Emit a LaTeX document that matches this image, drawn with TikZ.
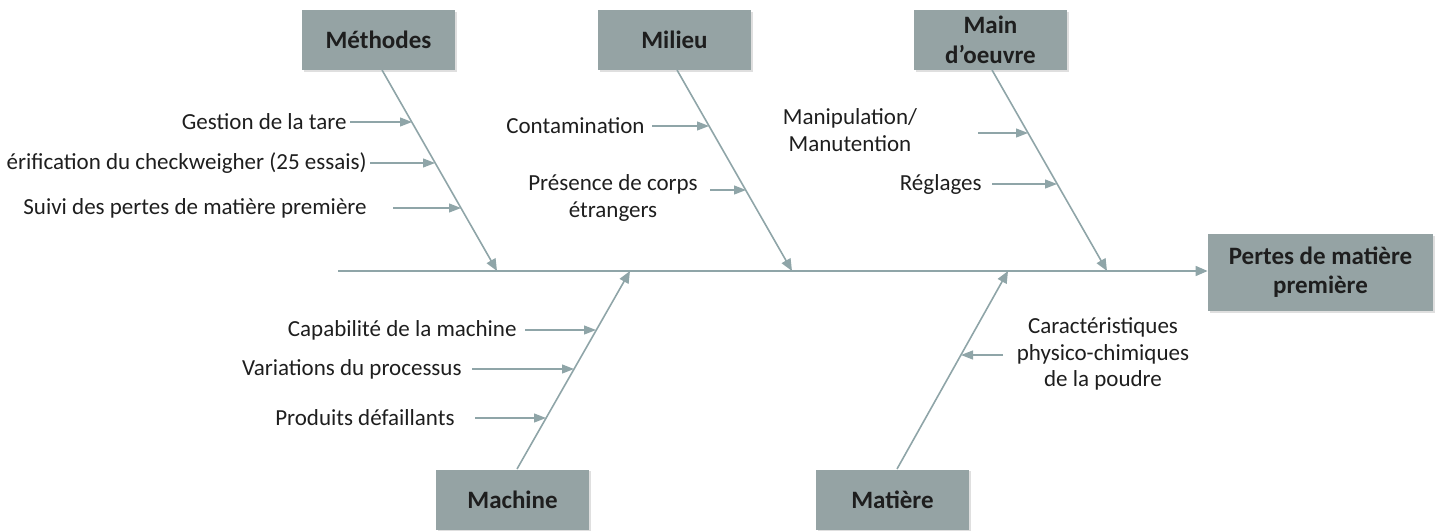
\documentclass[tikz,border=0pt]{standalone}
\usepackage{fontspec}
\setmainfont{Carlito}
\usetikzlibrary{arrows.meta,shadows}
\definecolor{boxfill}{HTML}{95A3A4}
\definecolor{bone}{HTML}{8FA5A8}
\definecolor{ink}{HTML}{1E1E1E}
\begin{document}
\begin{tikzpicture}[x=0.5pt,y=-0.5pt,
  cat/.style={fill=boxfill, draw=none, minimum width=76.5pt, minimum height=30pt,
    inner sep=0pt, align=center, text=ink,
    font=\bfseries\fontsize{12.5}{15}\selectfont,
    drop shadow={shadow xshift=0.8pt, shadow yshift=-0.8pt, opacity=0.25, fill=gray}},
  cause/.style={inner sep=0pt, align=center, text=ink, font=\fontsize{11.5}{13.3}\selectfont},
  bonearrow/.style={draw=bone, line width=0.8pt, -{Triangle[length=6pt,width=5pt]}},
  twig/.style={draw=bone, line width=0.6pt, -{Triangle[length=6pt,width=4.5pt]}}]
\useasboundingbox (0,0) rectangle (1440,530);

% category boxes
\node[cat] (met) at (378.5,40) {Méthodes};
\node[cat] (mil) at (674.5,40) {Milieu};
\node[cat] (mdo) at (990.5,40) {Main\\d’oeuvre};
\node[cat] (mac) at (512.5,499.5) {Machine};
\node[cat] (mat) at (892.5,499.5) {Matière};
\node[cat, minimum width=112.5pt, minimum height=38.5pt, font=\bfseries\fontsize{12.5}{14.5}\selectfont] (eff) at (1320.5,272.5) {Pertes de matière\\première};

% spine
\coordinate (tail) at (338,271);
\draw[bonearrow] (tail) -- (eff.west |- tail);

% main bones
\coordinate (metA) at (382,70);   \coordinate (metB) at (497,271);
\coordinate (milA) at (677,70);   \coordinate (milB) at (792,271);
\coordinate (mdoA) at (992,70);   \coordinate (mdoB) at (1107,271);
\coordinate (macA) at (517,469);  \coordinate (macB) at (630,271);
\coordinate (matA) at (897,469);  \coordinate (matB) at (1008,271);
\draw[bonearrow] (metA) -- (metB);
\draw[bonearrow] (milA) -- (milB);
\draw[bonearrow] (mdoA) -- (mdoB);
\draw[bonearrow] (macA) -- (macB);
\draw[bonearrow] (matA) -- (matB);

% Méthodes
\node[cause, anchor=east] (m1) at (347,122) {Gestion de la tare};
\node[cause, anchor=east] (m2) at (367,163) {érification du checkweigher (25 essais)};
\node[cause, anchor=east] (m3) at (367,208) {Suivi des pertes de matière première};
\coordinate (m1s) at (350,122); \coordinate (m1t) at (412,122);
\coordinate (m2s) at (370,163); \coordinate (m2t) at (435,163);
\coordinate (m3s) at (393,208); \coordinate (m3t) at (461,208);
\draw[twig] (m1s) -- (m1t);
\draw[twig] (m2s) -- (m2t);
\draw[twig] (m3s) -- (m3t);

% Milieu
\node[cause, anchor=east] (l1) at (645,126) {Contamination};
\node[cause] (l2) at (613,198) {Présence de corps\\étrangers};
\coordinate (l1s) at (652,126); \coordinate (l1t) at (709,126);
\coordinate (l2s) at (710,190); \coordinate (l2t) at (746,190);
\draw[twig] (l1s) -- (l1t);
\draw[twig] (l2s) -- (l2t);

% Main d'oeuvre
\node[cause] (o1) at (850,130) {Manipulation/\\Manutention};
\node[cause, anchor=east] (o2) at (982,184) {Réglages};
\coordinate (o1s) at (978,133); \coordinate (o1t) at (1028,133);
\coordinate (o2s) at (992,184); \coordinate (o2t) at (1057,184);
\draw[twig] (o1s) -- (o1t);
\draw[twig] (o2s) -- (o2t);

% Machine
\node[cause, anchor=east] (c1) at (517,330) {Capabilité de la machine};
\node[cause, anchor=east] (c2) at (462,369) {Variations du processus};
\node[cause, anchor=east] (c3) at (455,418) {Produits défaillants};
\coordinate (c1s) at (525,330); \coordinate (c1t) at (596,330);
\coordinate (c2s) at (472,369); \coordinate (c2t) at (574,369);
\coordinate (c3s) at (475,418); \coordinate (c3t) at (546,418);
\draw[twig] (c1s) -- (c1t);
\draw[twig] (c2s) -- (c2t);
\draw[twig] (c3s) -- (c3t);

% Matière
\node[cause] (t1) at (1103,354) {Caractéristiques\\physico-chimiques\\de la poudre};
\coordinate (t1s) at (1003,355); \coordinate (t1t) at (961,355);
\draw[twig] (t1s) -- (t1t);
\end{tikzpicture}
\end{document}
